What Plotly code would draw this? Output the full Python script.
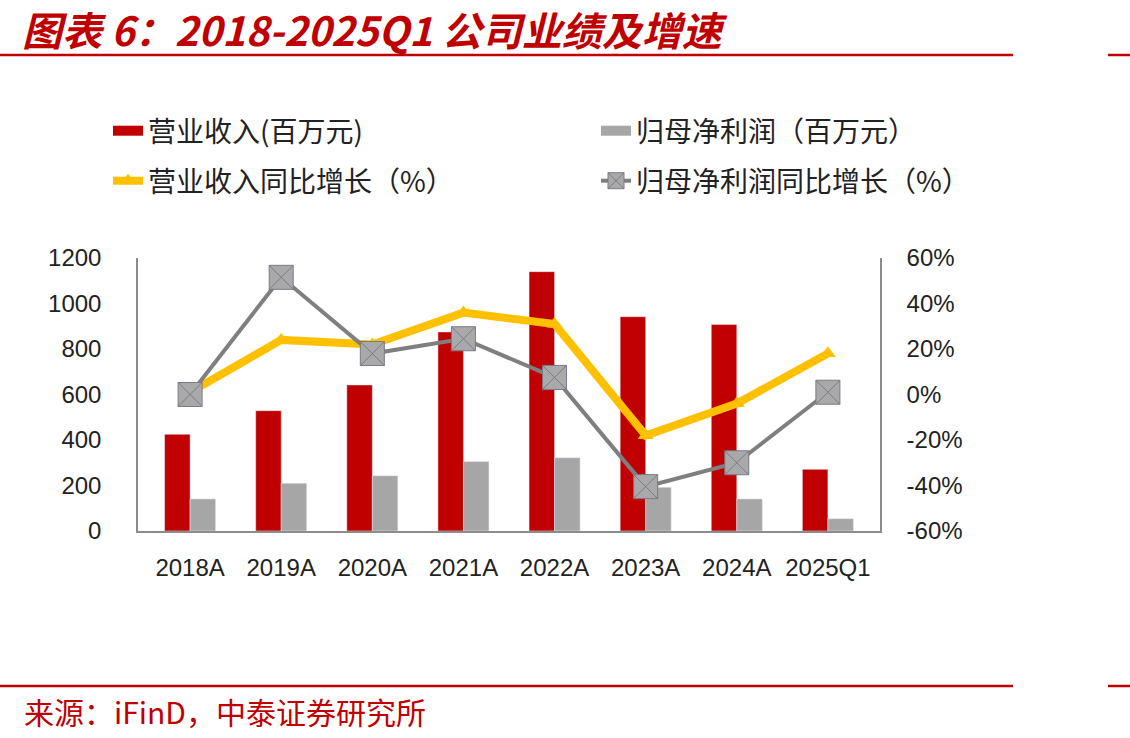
import plotly.graph_objects as go

categories = ["2018A", "2019A", "2020A", "2021A", "2022A", "2023A", "2024A", "2025Q1"]
revenue = [425, 529, 642, 875, 1140, 942, 908, 271]
net_profit = [141, 210, 243, 305, 322, 192, 141, 54]
revenue_yoy = [1, 24, 22, 36, 31, -18, -4, 18]
profit_yoy = [0, 51.5, 18, 24.5, 7.5, -40.5, -30, 1]

left_ticks = [0, 200, 400, 600, 800, 1000, 1200]
right_ticks = [-60, -40, -20, 0, 20, 40, 60]

W, H = 1130, 738
L, R, T, B = 138, 250, 258, 207
PW, PH = W - L - R, H - T - B


def px(x):
    return (x - L) / PW


def py(y):
    return (H - B - y) / PH


TICK_FONT = dict(family="Liberation Sans, Arial, sans-serif", size=24, color="#222222")
CJK = "Noto Sans CJK SC"
RED = "#C00000"
GREY_BAR = "#A6A6A6"

fig = go.Figure()
fig.add_trace(go.Bar(x=categories, y=revenue, name="营业收入(百万元)", marker_color=RED,
                     showlegend=False, yaxis="y"))
fig.add_trace(go.Bar(x=categories, y=net_profit, name="归母净利润（百万元）", marker_color=GREY_BAR,
                     showlegend=False, yaxis="y"))
fig.add_trace(go.Scatter(x=categories, y=revenue_yoy, name="营业收入同比增长（%）", mode="lines+markers",
                         line=dict(color="#FFC000", width=8),
                         marker=dict(symbol="triangle-up", size=14, color="#FFC000"),
                         legend="legend3", yaxis="y2"))
fig.add_trace(go.Scatter(x=categories, y=profit_yoy, name="归母净利润同比增长（%）", mode="lines+markers",
                         line=dict(color="#7F7F7F", width=4),
                         marker=dict(symbol="square-x", size=24, color="#A9A9A9",
                                     line=dict(color="#7A7A8A", width=1)),
                         legend="legend4", yaxis="y2"))
# legend entries for the bar series, drawn as wide swatches like the reference
fig.add_trace(go.Scatter(x=[None], y=[None], name="营业收入(百万元)", mode="lines",
                         line=dict(color=RED, width=12), legend="legend"))
fig.add_trace(go.Scatter(x=[None], y=[None], name="归母净利润（百万元）", mode="lines",
                         line=dict(color=GREY_BAR, width=12), legend="legend2"))

LEG_FONT = dict(family=CJK, size=28, color="#222222")


def leg(xpx, ypx):
    return dict(orientation="h", x=px(xpx), xanchor="left", y=py(ypx), yanchor="middle",
                font=LEG_FONT, bgcolor="rgba(0,0,0,0)")


fig.update_layout(
    width=W, height=H, autosize=False,
    margin=dict(l=L, r=R, t=T, b=B),
    paper_bgcolor="white", plot_bgcolor="white",
    barmode="group", bargap=0.44, bargroupgap=0,
    xaxis=dict(type="category", showline=True, linecolor="#8C8C8C", linewidth=1.5,
               ticks="", showgrid=False, tickfont=TICK_FONT, ticklabelstandoff=14),
    yaxis=dict(range=[0, 1200], tickvals=left_ticks, showline=True, linecolor="#8C8C8C",
               linewidth=1.5, showgrid=False, zeroline=False, ticks="", tickfont=TICK_FONT,
               ticklabelstandoff=30),
    yaxis2=dict(range=[-60, 60], tickvals=right_ticks, ticktext=[f"{v}%" for v in right_ticks],
                overlaying="y", side="right", showline=True, linecolor="#8C8C8C", linewidth=1.5,
                showgrid=False, zeroline=False, ticks="", tickfont=TICK_FONT, ticklabelstandoff=20),
    legend=leg(108, 131),
    legend2=leg(596, 131),
    legend3=leg(108, 181),
    legend4=leg(596, 181),
    showlegend=True,
)

# title as annotation
fig.add_annotation(text="<b><i>图表 6：2018-2025Q1 公司业绩及增速</i></b>", xref="paper", yref="paper",
                   x=px(20), y=py(29), xanchor="left", yanchor="middle", showarrow=False,
                   font=dict(family=CJK, size=40, color=RED))

# header / footer rules
for yy in (55, 686):
    fig.add_shape(type="line", xref="paper", yref="paper", x0=px(0), x1=px(1013), y0=py(yy), y1=py(yy),
                  line=dict(color=RED, width=2.5))
    fig.add_shape(type="line", xref="paper", yref="paper", x0=px(1108), x1=px(1130), y0=py(yy), y1=py(yy),
                  line=dict(color=RED, width=2.5))

fig.add_annotation(text="来源：iFinD，中泰证券研究所", xref="paper", yref="paper", x=px(22), y=py(711),
                   xanchor="left", yanchor="middle", showarrow=False,
                   font=dict(family=CJK, size=30, color=RED))

fig.write_html("out.html")
